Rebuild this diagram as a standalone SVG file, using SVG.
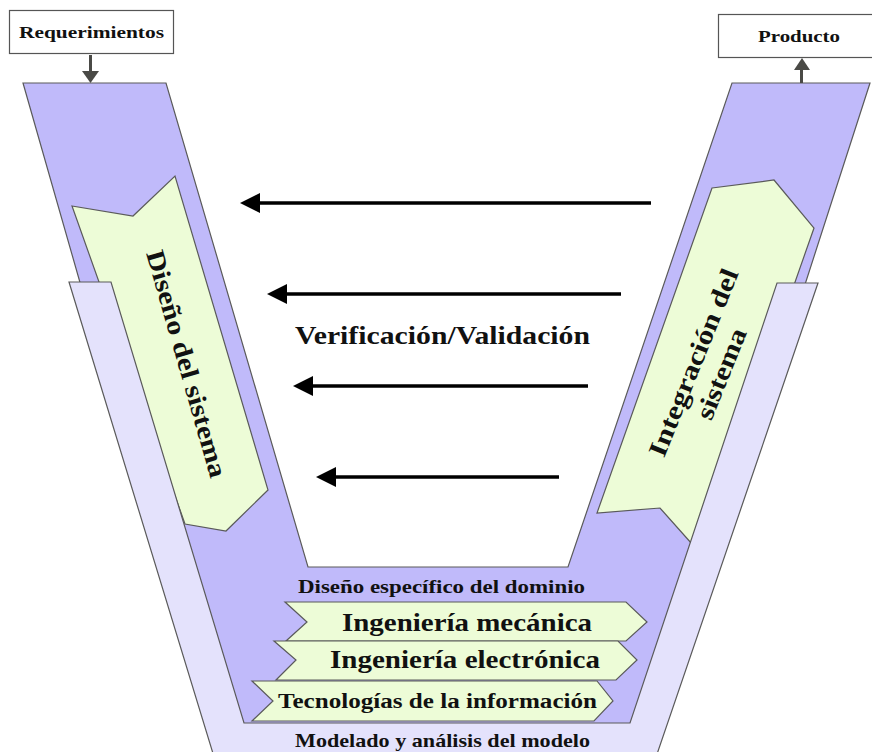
<svg xmlns="http://www.w3.org/2000/svg" width="872" height="752" viewBox="0 0 872 752">
<style>
.sh{stroke:#5a5a5a;stroke-width:1.2;stroke-linejoin:miter}
.pur{fill:#C0BAFA}
.lav{fill:#E4E2FC}
.grn{fill:#EDFCD7}
.t{font-family:"Liberation Serif","Times New Roman",serif;font-weight:bold;fill:#111;text-anchor:middle}
.ar{stroke:#000;stroke-width:3.5;fill:none}
.io{stroke:#4a4a46;stroke-width:3;fill:none}
</style>
<rect width="872" height="752" fill="#fff"/>
<g id="v-band">
<polygon class="sh pur" points="23,83 166,83 308,567 568,567 732,83 870,83 800,300 640,730 240,730 85,300"/>
</g>
<g id="diseno-sistema">
<polygon class="sh grn" points="72,206 133,216 175,176 268,490 226,531 185,524"/>
</g>
<g id="integracion-sistema">
<polygon class="sh grn" points="712,188 774,180 814,228 700,553 660,508 597,513"/>
</g>
<g id="modelado">
<polygon class="sh lav" points="69,282 111,282 244,723 630,723 777,283 818,283 655,760 215,760"/>
<text class="t" x="442.5" y="747" font-size="19" textLength="295" lengthAdjust="spacingAndGlyphs">Modelado y análisis del modelo</text>
</g>
<g id="diseno-sistema-label">
<text class="t" transform="translate(186,364) rotate(74)" x="0" y="8" font-size="26" textLength="235" lengthAdjust="spacingAndGlyphs">Diseño del sistema</text>
</g>
<g id="integracion-label" transform="translate(707,368) rotate(-68)">
<text class="t" x="0" y="-6" font-size="26" textLength="200" lengthAdjust="spacingAndGlyphs">Integración del</text>
<text class="t" x="0" y="24" font-size="26" textLength="96" lengthAdjust="spacingAndGlyphs">sistema</text>
</g>
<g id="dominio">
<text class="t" x="441.5" y="593" font-size="19" textLength="287" lengthAdjust="spacingAndGlyphs">Diseño específico del dominio</text>
</g>
<g id="mecanica">
<polygon class="sh grn" points="285,602 626,602 647,622 626,641 286,641 307,622"/>
<text class="t" x="467" y="631" font-size="26" textLength="250" lengthAdjust="spacingAndGlyphs">Ingeniería mecánica</text>
</g>
<g id="electronica">
<polygon class="sh grn" points="274,641 618,641 637,660 616,680 276,680 296,660"/>
<text class="t" x="465" y="668" font-size="26" textLength="270" lengthAdjust="spacingAndGlyphs">Ingeniería electrónica</text>
</g>
<g id="tecnologias">
<polygon class="sh grn" points="252,681 597,681 613,701 594,721 252,721 273,701"/>
<text class="t" x="437.5" y="708" font-size="20" textLength="319" lengthAdjust="spacingAndGlyphs">Tecnologías de la información</text>
</g>
<g id="requerimientos">
<rect x="9.5" y="10.5" width="164" height="43" fill="#fff" stroke="#555" stroke-width="1.2"/>
<text class="t" x="91.5" y="38" font-size="17" textLength="145" lengthAdjust="spacingAndGlyphs">Requerimientos</text>
</g>
<g id="producto">
<rect x="718.5" y="14.5" width="160" height="43" fill="#fff" stroke="#555" stroke-width="1.2"/>
<text class="t" x="799" y="42" font-size="17" textLength="82" lengthAdjust="spacingAndGlyphs">Producto</text>
</g>
<g id="verificacion">
<text class="t" x="442.5" y="344" font-size="25.5" textLength="295" lengthAdjust="spacingAndGlyphs">Verificación/Validación</text>
</g>
<g id="connectors">
<line class="io" x1="90.5" y1="55" x2="90.5" y2="73"/>
<polygon points="82,71 99,71 90.5,83" fill="#4a4a46"/>
<line class="io" x1="801.5" y1="83" x2="801.5" y2="68"/>
<polygon points="794,70 810,70 802,58" fill="#4a4a46"/>
<line class="ar" x1="651" y1="203" x2="255" y2="203"/>
<polygon points="240,203 260,193 260,213"/>
<line class="ar" x1="621" y1="294" x2="282" y2="294"/>
<polygon points="267,294 287,284 287,304"/>
<line class="ar" x1="588" y1="386" x2="308" y2="386"/>
<polygon points="293,386 313,376 313,396"/>
<line class="ar" x1="559" y1="477" x2="331" y2="477"/>
<polygon points="316,477 336,467 336,487"/>
</g>
</svg>
